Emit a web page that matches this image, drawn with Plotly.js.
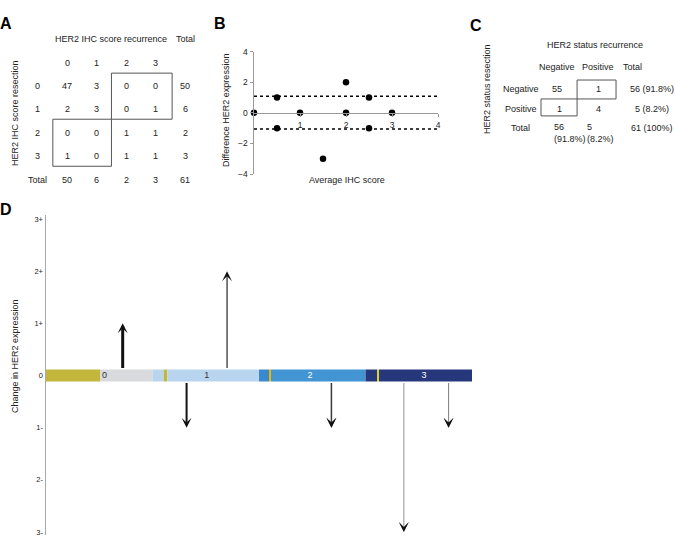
<!DOCTYPE html>
<html>
<head>
<meta charset="utf-8">
<script src="https://cdn.plot.ly/plotly-3.0.1.min.js"></script>
<style>html,body{margin:0;padding:0;background:#fff;}#chart{width:675px;height:537px;}</style>
</head>
<body>
<div id="chart"></div>
<script>
// ---------- DATA ----------
// Panel A: HER2 IHC score table (rows = resection, cols = recurrence)
const tableA_rowLabels = ['0', '1', '2', '3'];
const tableA_colLabels = ['0', '1', '2', '3'];
const tableA_values = [[47, 3, 0, 0], [2, 3, 0, 1], [0, 0, 1, 1], [1, 0, 1, 1]];
const tableA_rowTotals = [50, 6, 2, 3];
const tableA_colTotals = [50, 6, 2, 3];
const tableA_grandTotal = 61;

// Panel B: Bland-Altman style plot
const avgIHC = [0, 0.5, 0.5, 1, 1.5, 2, 2, 2.5, 2.5, 3];
const diffHER2 = [0, 1, -1, 0, -3, 2, 0, 1, -1, 0];
const limitsOfAgreement = [1.09, -1.05];

// Panel C: HER2 status table
const tableC_labels = ['Negative', 'Positive'];
const tableC_values = [[55, 1], [1, 4]];
const tableC_rowTotals = ['56 (91.8%)', '5 (8.2%)'];
const tableC_colTotals = ['56<br>(91.8%)', '5<br>(8.2%)'];
const tableC_grandTotal = '61 (100%)';

// Panel D: change in HER2 expression per resection score
const scoreLabels = ['0', '1', '2', '3'];
const segmentLengths = [0.507, 0.493, 0.105, 0.034, 0.861, 0.094, 0.019, 0.887, 0.108, 0.019, 0.873];
const changeFromScore = [0, 1, 1, 2, 3, 3];
const changeAmount = [1, 2, -1, -1, -3, -1];
const changePatients = [3, 1, 2, 1, 1, 1];
const yTickText = ['3+', '2+', '1+', '0', '1-', '2-', '3-'];
const yTickVals = [3, 2, 1, 0, -1, -2, -3];

// ---------- STYLE / LAYOUT CONSTANTS ----------
const FONT = 'Liberation Sans, Arial, sans-serif';
const W = 675, H = 537;
const px = v => v / W, py = v => 1 - v / H;
const segmentColors = ['#c2b73a', '#d8dadd', '#b9d4ef', '#c2b73a', '#b9d4ef', '#3a89cf', '#e8b800', '#4394d3', '#26377c', '#e0cf30', '#26377c'];
const barLabelPos = [0.55, 1.51, 2.48, 3.55];
const barLabelColors = ['#333', '#333', '#fff', '#fff'];
const arrowOffset = [0.72, 0.70, 0.32, 0.68, 0.36, 0.78];
const arrowColors = ['#111', '#111', '#111', '#3a3a3a', '#9a9a9a', '#8a8a8a'];
const arrowWidths = changePatients.map((n, i) => n === 3 ? 3 : n === 2 ? 2 : (i === 3 ? 1.5 : 1.1));
const barHalf = 0.115;

const traces = [];
const annotations = [];
const shapes = [];

// ---------- Panel B ----------
traces.push({
  x: avgIHC, y: diffHER2, xaxis: 'x', yaxis: 'y', type: 'scatter', mode: 'markers',
  marker: {color: '#000', size: 6.5}, cliponaxis: false, hoverinfo: 'x+y'
});
limitsOfAgreement.forEach(l => {
  traces.push({x: [0, 4.05], y: [l, l], xaxis: 'x', yaxis: 'y', type: 'scatter', mode: 'lines',
    line: {color: '#000', width: 1.5, dash: 'dot'}, cliponaxis: false, hoverinfo: 'skip'});
});

// ---------- Panel D ----------
let acc = 0;
const segBase = segmentLengths.map(l => { const b = acc; acc += l; return b; });
traces.push({
  type: 'bar', orientation: 'h', xaxis: 'x2', yaxis: 'y2',
  base: segBase, x: segmentLengths, y: segmentLengths.map(() => 0),
  width: barHalf * 2, marker: {color: segmentColors, line: {width: 0}}, hoverinfo: 'skip'
});
traces.push({
  type: 'scatter', mode: 'text', xaxis: 'x2', yaxis: 'y2',
  x: barLabelPos, y: scoreLabels.map(() => 0), text: scoreLabels,
  textfont: {family: FONT, size: 9, color: barLabelColors}, hoverinfo: 'skip'
});
changeFromScore.forEach((s, i) => {
  const xpos = s + arrowOffset[i];
  const dir = Math.sign(changeAmount[i]);
  const w = arrowWidths[i];
  annotations.push({
    xref: 'x2', yref: 'y2', axref: 'x2', ayref: 'y2',
    x: xpos, y: changeAmount[i], ax: xpos, ay: dir * barHalf,
    text: '', showarrow: true, arrowhead: 3, arrowwidth: w,
    arrowsize: 10 / (6 * w), arrowcolor: arrowColors[i]
  });
  if (arrowColors[i] !== '#111') {
    // black arrow head on the grey shafts
    annotations.push({
      xref: 'x2', yref: 'y2', axref: 'x2', ayref: 'y2',
      x: xpos, y: changeAmount[i], ax: xpos, ay: changeAmount[i] - dir * 0.12,
      text: '', showarrow: true, arrowhead: 3, arrowwidth: w,
      arrowsize: 10 / (6 * w), arrowcolor: '#111'
    });
  }
});

// ---------- Panel A table (axis units: column / row index) ----------
const fA = {family: FONT, size: 9, color: '#222'};
function cellA(c, r, t) {
  annotations.push({xref: 'x3', yref: 'y3', x: c, y: r, text: String(t), showarrow: false, font: fA,
    xanchor: 'center', yanchor: 'middle'});
}
cellA(1.5, -2, 'HER2 IHC score recurrence');
cellA(4, -2, 'Total');
tableA_colLabels.forEach((l, c) => cellA(c, -1, l));
tableA_rowLabels.forEach((l, r) => {
  cellA(-1, r, l);
  tableA_values[r].forEach((v, c) => cellA(c, r, v));
  cellA(4, r, tableA_rowTotals[r]);
});
cellA(-1, 4, 'Total');
tableA_colTotals.forEach((v, c) => cellA(c, 4, v));
cellA(4, 4, tableA_grandTotal);
shapes.push({type: 'rect', xref: 'x3', yref: 'y3', x0: 1.5, x1: 3.55, y0: -0.55, y1: 1.42, line: {color: '#555', width: 1}});
shapes.push({type: 'rect', xref: 'x3', yref: 'y3', x0: -0.48, x1: 1.5, y0: 1.42, y1: 3.43, line: {color: '#555', width: 1}});

// ---------- Panel C table ----------
const fC = {family: FONT, size: 9, color: '#222'};
const colC = {label: -0.88, headTotal: 1.85, total: 2.32};
function cellC(c, r, t, extra) {
  annotations.push(Object.assign({xref: 'x4', yref: 'y4', x: c, y: r, text: String(t), showarrow: false, font: fC,
    xanchor: 'center', yanchor: 'middle'}, extra || {}));
}
cellC(0.93, -2.25, 'HER2 status recurrence');
cellC(0, -1.12, 'Negative');
cellC(1, -1.12, 'Positive');
cellC(colC.headTotal, -1.12, 'Total');
tableC_labels.forEach((l, r) => {
  cellC(colC.label, r, l);
  tableC_values[r].forEach((v, c) => cellC(c + (r === 1 && c === 0 ? 0.05 : 0), r, v));
  cellC(colC.total, r, tableC_rowTotals[r]);
});
cellC(colC.label, 2, 'Total');
tableC_colTotals.forEach((v, c) => cellC(c * 0.8 - 0.12, 2.27, v, {xanchor: 'left', align: 'left'}));
cellC(colC.total, 2, tableC_grandTotal);
shapes.push({type: 'rect', xref: 'x4', yref: 'y4', x0: 0.49, x1: 1.44, y0: -0.46, y1: 0.51, line: {color: '#555', width: 1}});
shapes.push({type: 'rect', xref: 'x4', yref: 'y4', x0: -0.39, x1: 0.49, y0: 0.51, y1: 1.38, line: {color: '#555', width: 1}});

// ---------- Panel letters and free titles ----------
[['A', 6, 24], ['B', 220, 24], ['C', 476, 25], ['D', 6, 210]].forEach(([t, x, y]) => {
  annotations.push({xref: 'paper', yref: 'paper', x: px(x), y: py(y), text: '<b>' + t + '</b>',
    showarrow: false, xanchor: 'center', yanchor: 'middle', font: {family: FONT, size: 16, color: '#000'}});
});
const titleFont = {family: FONT, size: 9, color: '#222'};
function freeTitle(x, y, t, angle) {
  annotations.push({xref: 'paper', yref: 'paper', x: px(x), y: py(y), text: t, textangle: angle,
    showarrow: false, xanchor: 'center', yanchor: 'middle', font: titleFont});
}
freeTitle(15, 113, 'HER2 IHC score resection', -90);
freeTitle(226, 110, 'Difference HER2 expression', -90);
freeTitle(347, 180, 'Average IHC score', 0);
freeTitle(487, 89, 'HER2 status resection', -90);
freeTitle(15, 356, 'Change in HER2 expression', -90);

const hidden = {visible: false, fixedrange: true};
const layout = {
  width: W, height: H, margin: {l: 0, r: 0, t: 0, b: 0},
  paper_bgcolor: '#fff', plot_bgcolor: 'rgba(0,0,0,0)', showlegend: false,
  font: {family: FONT, size: 8, color: '#222'},
  barmode: 'overlay',
  // Panel B
  xaxis: {domain: [px(254), px(438)], range: [0, 4], anchor: 'free', position: (py(174) + py(51.7)) / 2,
    showline: true, linecolor: '#999', linewidth: 1.5, ticks: 'outside', ticklen: 3, tickcolor: '#999',
    tickvals: [1, 2, 3, 4], showgrid: false, zeroline: false, tickfont: {size: 8.5, color: '#222'}},
  yaxis: {domain: [py(174), py(51.7)], range: [-4, 4], anchor: 'x',
    showline: true, linecolor: '#999', linewidth: 1.5, ticks: 'outside', ticklen: 3, tickcolor: '#999',
    tickvals: [-4, -2, 0, 2, 4], showgrid: false, zeroline: false, tickfont: {size: 8.5, color: '#222'}},
  // Panel D
  xaxis2: {domain: [px(46), px(472)], range: [0, 4], anchor: 'y2', visible: false},
  yaxis2: {domain: [py(535), py(215)], range: [-3.058, 3.077], anchor: 'x2',
    showline: true, linecolor: '#aaa', linewidth: 1.5, ticks: '', tickvals: yTickVals, ticktext: yTickText,
    showgrid: false, zeroline: false, tickfont: {size: 7.5, color: '#222'}},
  // Panel A table
  xaxis3: Object.assign({domain: [px(10.8), px(203.2)], range: [-1.9, 4.6], anchor: 'y3'}, hidden),
  yaxis3: Object.assign({domain: [py(191.3), py(27.5)], range: [4.5, -2.5], anchor: 'x3'}, hidden),
  // Panel C table
  xaxis4: Object.assign({domain: [px(495.5), px(669.75)], range: [-1.5, 2.75], anchor: 'y4'}, hidden),
  yaxis4: Object.assign({domain: [py(151.4), py(34.4)], range: [3.2, -2.8], anchor: 'x4'}, hidden),
  annotations: annotations,
  shapes: shapes
};

Plotly.newPlot('chart', traces, layout, {staticPlot: true, displayModeBar: false});
</script>
</body>
</html>
